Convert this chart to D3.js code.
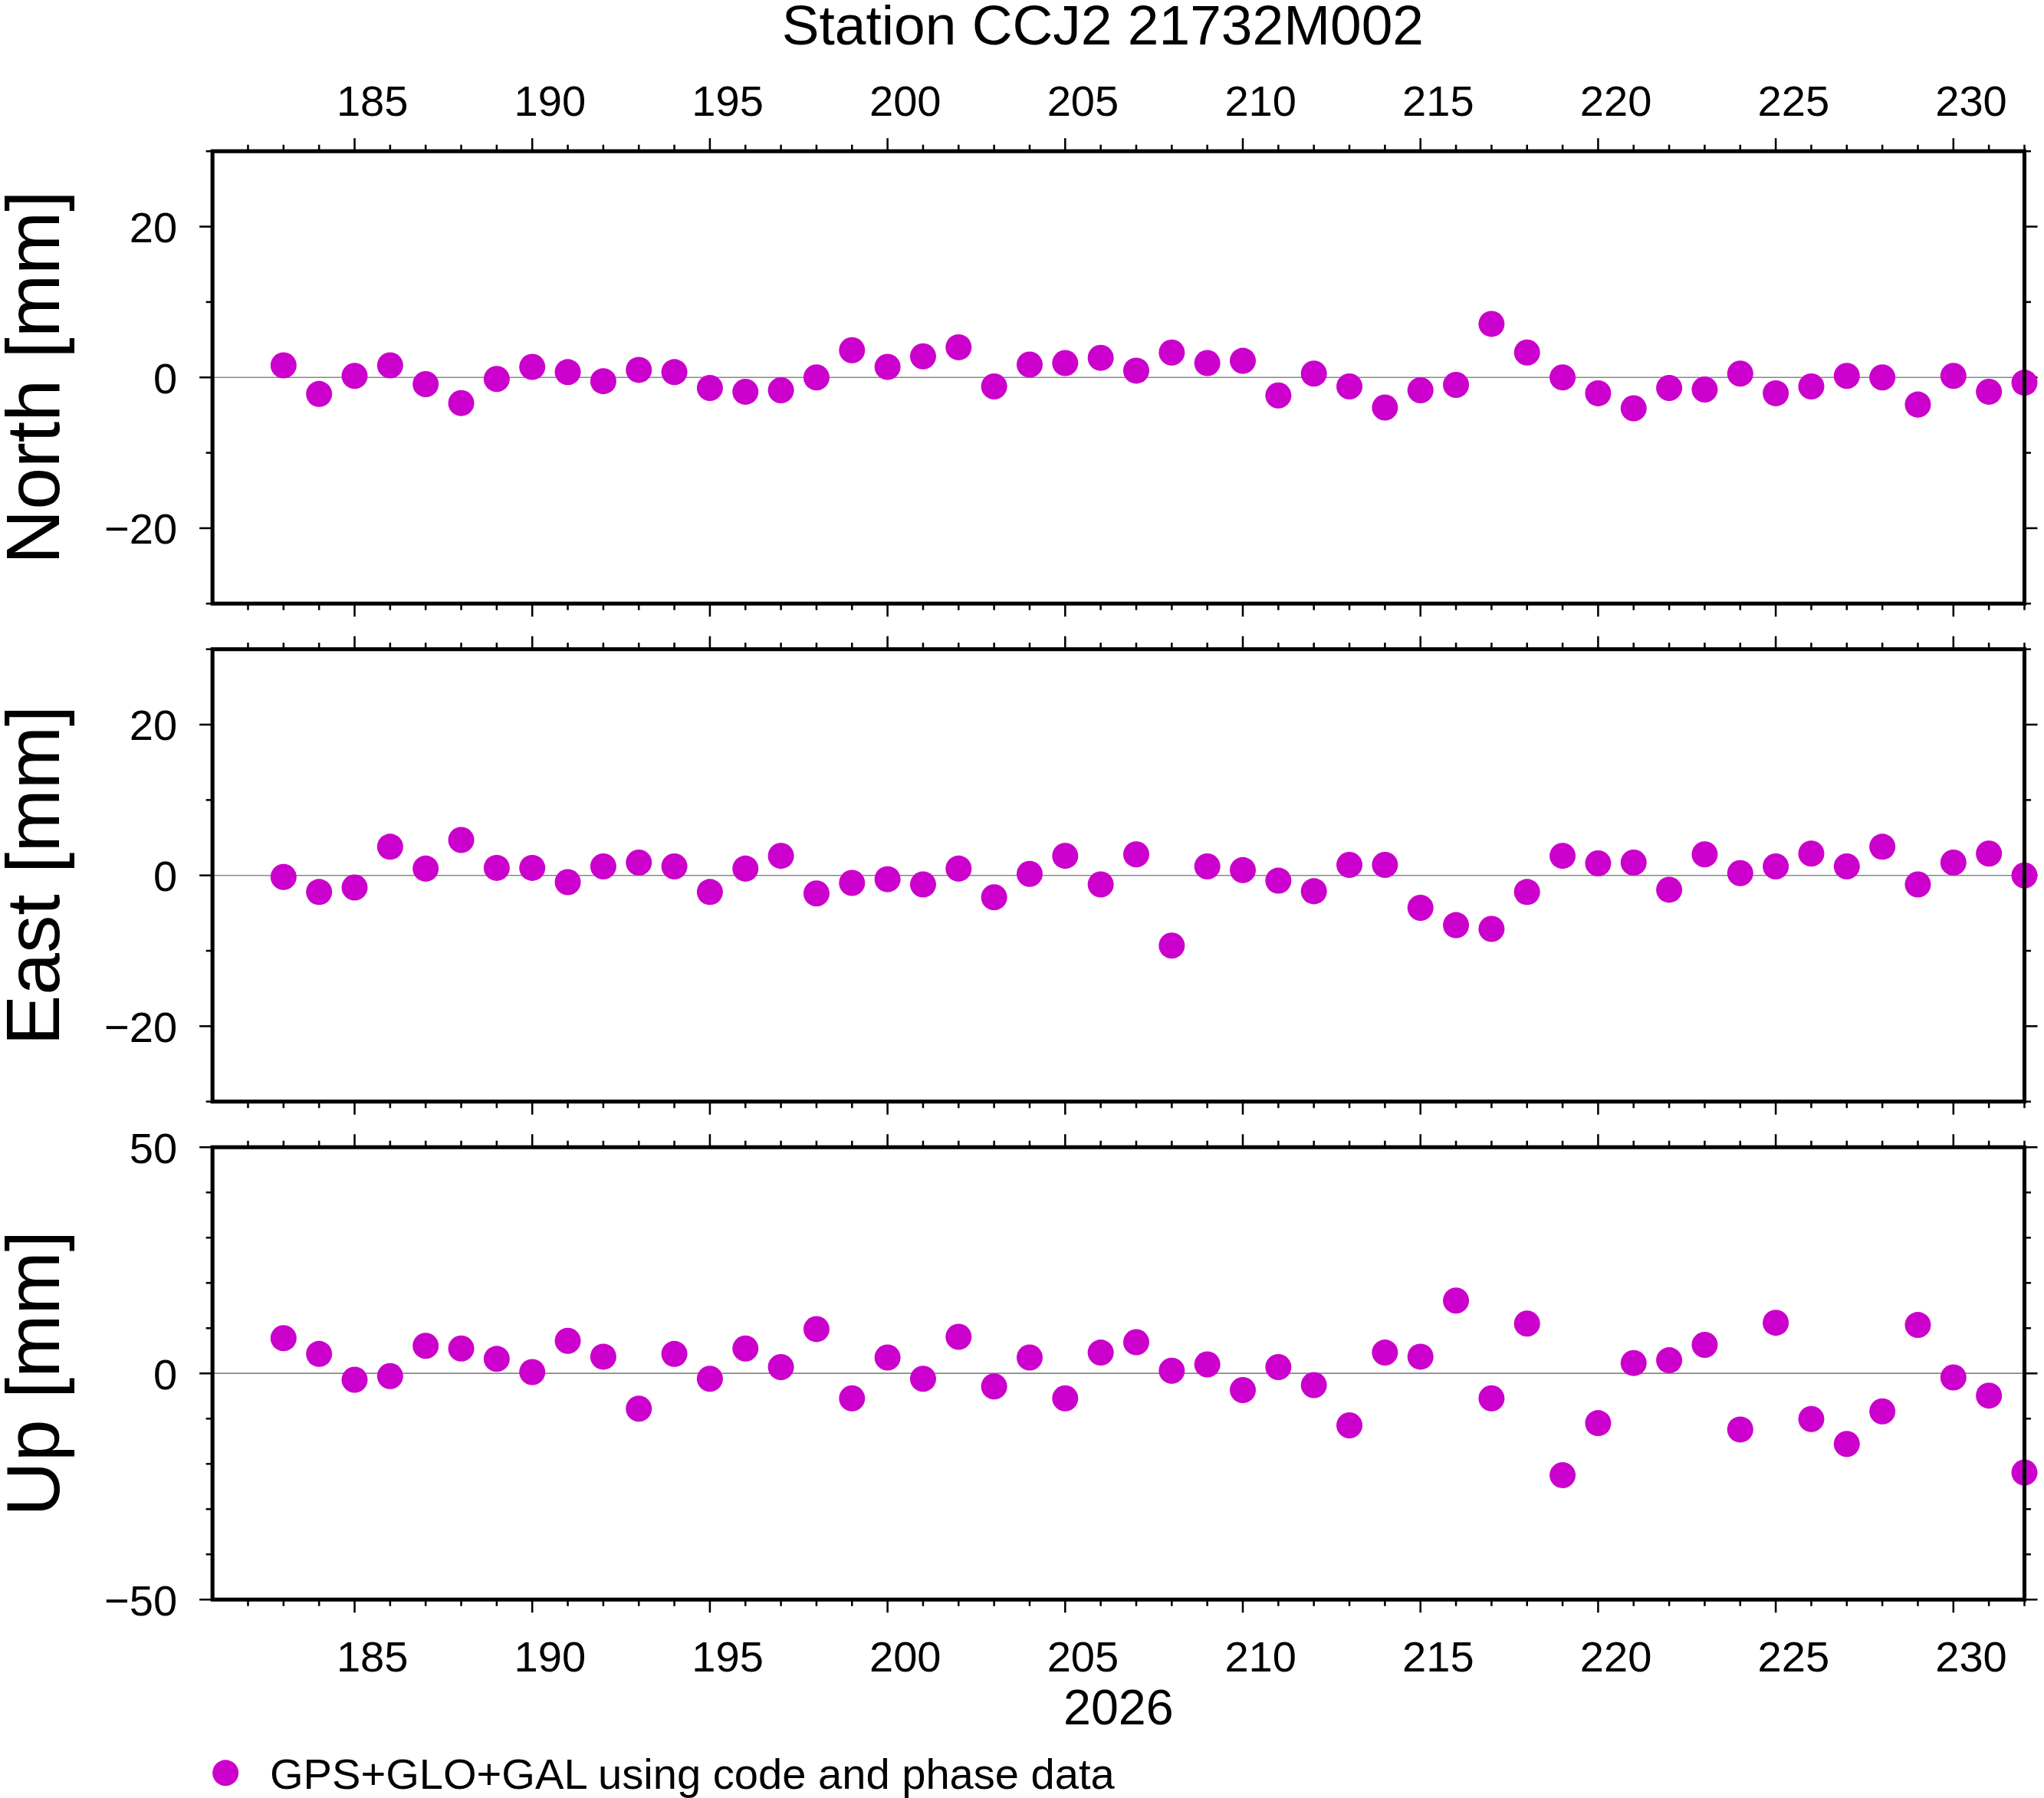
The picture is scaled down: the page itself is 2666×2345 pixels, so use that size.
<!DOCTYPE html>
<html><head><meta charset="utf-8">
<script src="https://cdn.jsdelivr.net/npm/d3@7"></script>
<style>body{margin:0;background:#fff}text{font-family:"Liberation Sans",Arial,sans-serif}</style>
</head><body>
<svg id="chart" width="2666" height="2345" viewBox="0 0 1568 1379.2"></svg>
<script>
// day of year 2026
var days = d3.range(183, 233);
var north = [1.6,-2.2,0.2,1.6,-0.9,-3.4,-0.2,1.4,0.7,-0.5,1.0,0.7,-1.4,-1.9,-1.7,0,3.6,1.4,2.8,4.0,
  -1.2,1.7,1.9,2.6,0.9,3.3,1.9,2.2,-2.4,0.5,-1.2,-4.0,-1.7,-1.0,7.1,3.3,0,-2.1,-4.1,-1.4,
  -1.6,0.5,-2.1,-1.2,0.2,0,-3.6,0.2,-1.9,-0.7];
var east = [-0.2,-2.2,-1.6,3.8,0.9,4.7,1.0,1.0,-0.9,1.2,1.7,1.2,-2.2,0.9,2.6,-2.4,-1.0,-0.5,-1.2,0.9,
  -2.9,0.2,2.6,-1.2,2.8,-9.3,1.2,0.7,-0.7,-2.1,1.4,1.4,-4.3,-6.6,-7.1,-2.2,2.6,1.6,1.7,-1.9,
  2.8,0.3,1.2,2.9,1.2,3.8,-1.2,1.7,2.9,0];
var up = [7.8,4.3,-1.4,-0.6,6.1,5.5,3.2,0.3,7.2,3.7,-7.8,4.3,-1.2,5.5,1.4,9.8,-5.5,3.5,-1.2,8.1,
  -2.9,3.5,-5.5,4.6,6.9,0.6,2.0,-3.7,1.4,-2.6,-11.5,4.6,3.7,16.1,-5.5,11.0,-22.5,-11.0,2.3,2.9,
  6.3,-12.4,11.2,-10.1,-15.6,-8.4,10.7,-0.9,-4.9,-21.9];

var panels = [
  {name:"North [mm]", values:north, lim:30, major:20, minor:10, top:116},
  {name:"East [mm]", values:east, lim:30, major:20, minor:10, top:498},
  {name:"Up [mm]", values:up, lim:50, major:50, minor:10, top:880}
];
var ph = 347, L = 163, R = 1553;
var color = "#cc00cc";
var svg = d3.select("#chart");
var x = d3.scaleLinear().domain([181, 232]).range([L, R]);

svg.append("text").attr("x", 846).attr("y", 34).attr("text-anchor", "middle")
  .attr("font-size", 43).text("Station CCJ2 21732M002");

panels.forEach(function (p, pi) {
  var y = d3.scaleLinear().domain([-p.lim, p.lim]).range([p.top + ph, p.top]);
  var g = svg.append("g");
  // x ticks top and bottom
  [p.top, p.top + ph].forEach(function (yy, k) {
    var dir = k == 0 ? -1 : 1;
    d3.range(182, 233).forEach(function (d) {
      var len = d % 5 == 0 ? 10 : 5;
      g.append("line").attr("x1", x(d)).attr("x2", x(d)).attr("y1", yy).attr("y2", yy + dir * len)
        .attr("stroke", "#000").attr("stroke-width", 1.5);
    });
  });
  // y ticks both sides
  d3.range(-p.lim, p.lim + 0.01, p.minor).forEach(function (v) {
    var len = v % p.major == 0 ? 10 : 5;
    [[L, -1], [R, 1]].forEach(function (s) {
      g.append("line").attr("x1", s[0]).attr("x2", s[0] + s[1] * len).attr("y1", y(v)).attr("y2", y(v))
        .attr("stroke", "#000").attr("stroke-width", 1.5);
    });
  });
  d3.range(-p.major, p.major + 0.01, p.major).forEach(function (v) {
    g.append("text").attr("x", L - 27).attr("y", y(v) + 12).attr("text-anchor", "end")
      .attr("font-size", 33).text(v < 0 ? "\u2212" + (-v) : v);
  });
  // zero line
  g.append("line").attr("x1", L).attr("x2", R).attr("y1", y(0)).attr("y2", y(0))
    .attr("stroke", "#888").attr("stroke-width", 1);
  // points
  g.selectAll("circle.pt").data(p.values).enter().append("circle")
    .attr("cx", function (d, i) { return x(days[i]); })
    .attr("cy", function (d) { return y(d); })
    .attr("r", 10).attr("fill", color);
  // frame
  g.append("rect").attr("x", L).attr("y", p.top).attr("width", R - L).attr("height", ph)
    .attr("fill", "none").attr("stroke", "#000").attr("stroke-width", 3);
  // y label
  g.append("text").attr("transform", "translate(45," + (p.top + ph / 2) + ") rotate(-90)")
    .attr("text-anchor", "middle").attr("font-size", 58).text(p.name);
});

// x labels top and bottom
d3.range(185, 231, 5).forEach(function (d) {
  svg.append("text").attr("x", x(d + 0.5)).attr("y", 89).attr("text-anchor", "middle")
    .attr("font-size", 33).text(d);
  svg.append("text").attr("x", x(d + 0.5)).attr("y", 1282).attr("text-anchor", "middle")
    .attr("font-size", 33).text(d);
});
svg.append("text").attr("x", 858).attr("y", 1323).attr("text-anchor", "middle")
  .attr("font-size", 38).text("2026");

// legend
svg.append("circle").attr("cx", 173).attr("cy", 1360).attr("r", 10).attr("fill", color);
svg.append("text").attr("x", 207).attr("y", 1372).attr("font-size", 33)
  .text("GPS+GLO+GAL using code and phase data");
</script>
</body></html>
